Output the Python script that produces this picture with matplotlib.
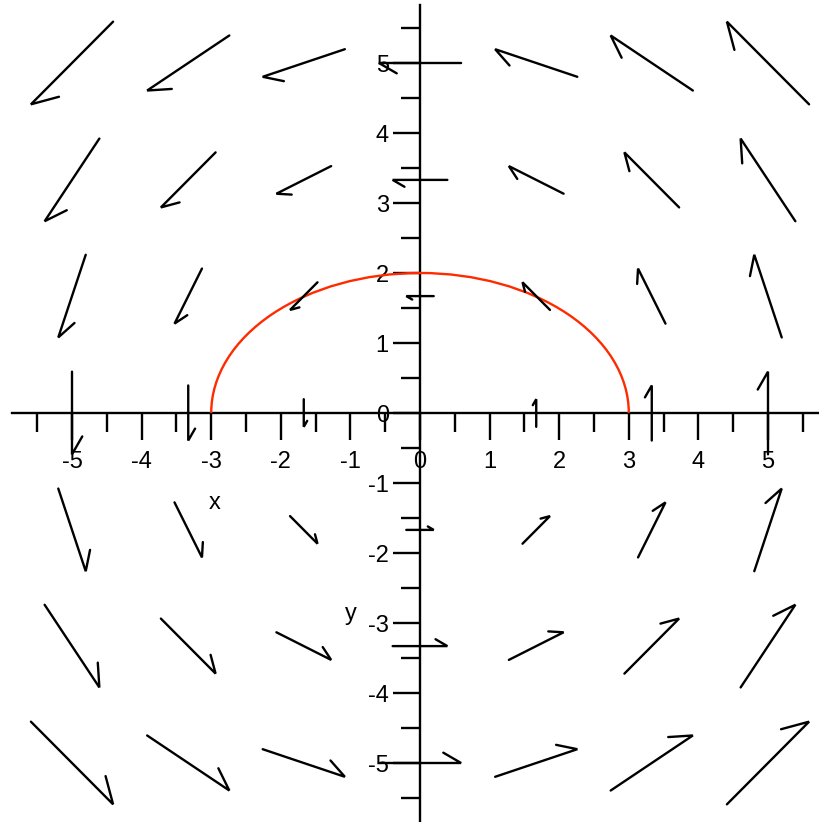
import numpy as np
import matplotlib
matplotlib.use("Agg")
import matplotlib.pyplot as plt
from matplotlib.patches import Arc
from matplotlib.collections import LineCollection
from matplotlib.ticker import FixedLocator

plt.rcParams['font.family'] = ['Liberation Sans', 'DejaVu Sans']
plt.rcParams['axes.unicode_minus'] = False

# ---- data ----
grid_x = [-5.0, -3.33, -1.67, 0.0, 1.67, 3.33, 5.0]
grid_y = [-5.0, -3.33, -1.67, 0.0, 1.67, 3.33, 5.0]
# field components, rows follow grid_y, columns follow grid_x
field_u = [
    [5.0, 5.0, 5.0, 5.0, 5.0, 5.0, 5.0],
    [3.33, 3.33, 3.33, 3.33, 3.33, 3.33, 3.33],
    [1.67, 1.67, 1.67, 1.67, 1.67, 1.67, 1.67],
    [0.0, 0.0, 0.0, 0.0, 0.0, 0.0, 0.0],
    [-1.67, -1.67, -1.67, -1.67, -1.67, -1.67, -1.67],
    [-3.33, -3.33, -3.33, -3.33, -3.33, -3.33, -3.33],
    [-5.0, -5.0, -5.0, -5.0, -5.0, -5.0, -5.0],
]
field_v = [
    [-5.0, -3.33, -1.67, 0.0, 1.67, 3.33, 5.0],
    [-5.0, -3.33, -1.67, 0.0, 1.67, 3.33, 5.0],
    [-5.0, -3.33, -1.67, 0.0, 1.67, 3.33, 5.0],
    [-5.0, -3.33, -1.67, 0.0, 1.67, 3.33, 5.0],
    [-5.0, -3.33, -1.67, 0.0, 1.67, 3.33, 5.0],
    [-5.0, -3.33, -1.67, 0.0, 1.67, 3.33, 5.0],
    [-5.0, -3.33, -1.67, 0.0, 1.67, 3.33, 5.0],
]
ellipse_a = 3.0   # semi-axis along x
ellipse_b = 2.0   # semi-axis along y
x_ticks = [-5, -4, -3, -2, -1, 0, 1, 2, 3, 4, 5]
y_ticks = [-5, -4, -3, -2, -1, 0, 1, 2, 3, 4, 5]
minor_ticks = [-5.5, -4.5, -3.5, -2.5, -1.5, -0.5, 0.5, 1.5, 2.5, 3.5, 4.5, 5.5]

# ---- figure ----
W, H = 819, 822
fig = plt.figure(figsize=(W / 100, H / 100), dpi=100)
ax = fig.add_axes([0, 0, 1, 1])
ax.set_xlim(-420 / 69.6, (W - 420) / 69.6)
ax.set_ylim(-(H - 413) / 70.0, 413 / 70.0)

# axes through origin
for s in ['top', 'right']:
    ax.spines[s].set_visible(False)
ax.spines['left'].set_position(('data', 0))
ax.spines['bottom'].set_position(('data', 0))
ax.spines['bottom'].set_bounds(-5.86, 5.75)
ax.spines['left'].set_bounds(-5.9, 5.83)
for s in ['left', 'bottom']:
    ax.spines[s].set_linewidth(1.7)
    ax.spines[s].set_color('black')

ax.set_xticks(x_ticks)
ax.set_yticks(y_ticks)
ax.set_xticklabels([str(t) for t in x_ticks])
ax.set_yticklabels([str(t) for t in y_ticks])
ax.xaxis.set_minor_locator(FixedLocator(minor_ticks))
ax.yaxis.set_minor_locator(FixedLocator(minor_ticks))
ax.tick_params(which='major', direction='out', length=19.5, width=1.7, labelsize=17)
ax.tick_params(axis='x', which='major', pad=8)
ax.tick_params(axis='y', which='major', pad=3)
ax.tick_params(which='minor', direction='out', length=13.5, width=1.7)

# ellipse arc (upper half)
ax.add_patch(Arc((0, 0), 2 * ellipse_a, 2 * ellipse_b, theta1=0, theta2=180,
                 color='#ff2a00', lw=1.7, zorder=3))

# direction field with single-barb arrows
U = np.array(field_u)
V = np.array(field_v)
GX, GY = np.meshgrid(np.array(grid_x), np.array(grid_y))
mag = np.hypot(U, V)
spacing = grid_x[1] - grid_x[0]
scale = spacing / mag.max()
segs = []
ang = np.deg2rad(-30)
ca, sa = np.cos(ang), np.sin(ang)
for i in range(GX.shape[0]):
    for j in range(GX.shape[1]):
        u, v = U[i, j] * scale, V[i, j] * scale
        cx, cy = GX[i, j], GY[i, j]
        tail = (cx - u / 2, cy - v / 2)
        head = (cx + u / 2, cy + v / 2)
        bx, by = -u * 0.25, -v * 0.25
        barb = (head[0] + bx * ca - by * sa, head[1] + bx * sa + by * ca)
        segs.append([tail, head, barb])
ax.add_collection(LineCollection(segs, colors='black', linewidths=1.7,
                                 capstyle='round', joinstyle='miter', zorder=4))

ax.text((215 - 420) / 69.6, (413 - 503) / 70.0, 'x', fontsize=17, ha='center', va='center')
ax.text((351 - 420) / 69.6, (413 - 614) / 70.0, 'y', fontsize=17, ha='center', va='center')

fig.savefig('out.png', dpi=100)
